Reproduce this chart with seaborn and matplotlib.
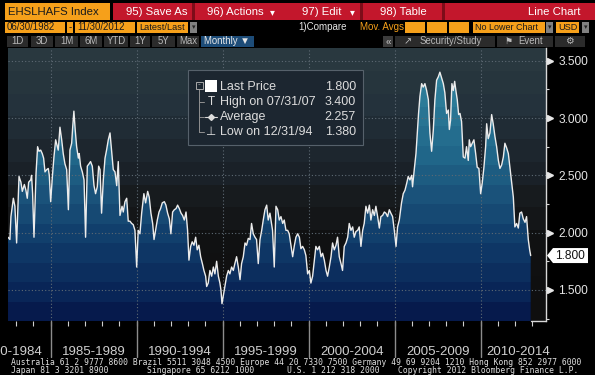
import numpy as np
import matplotlib
matplotlib.use("Agg")
import matplotlib.pyplot as plt
import seaborn as sns
from matplotlib.colors import LinearSegmentedColormap
from matplotlib.patches import Rectangle, Polygon
from matplotlib.transforms import IdentityTransform

# EHSLHAFS Index, monthly, 06/1982 - 11/2012
dates = [
    1982.52, 1982.63, 1982.69, 1982.83, 1982.92, 1983.02, 1983.16, 1983.27, 1983.35, 1983.47,
    1983.56, 1983.64, 1983.72, 1983.84, 1983.89, 1983.95, 1984.03, 1984.15, 1984.24, 1984.32,
    1984.42, 1984.51, 1984.59, 1984.67, 1984.77, 1984.86, 1984.92, 1985.00, 1985.10, 1985.19,
    1985.29, 1985.39, 1985.44, 1985.54, 1985.64, 1985.73, 1985.83, 1985.93, 1986.03, 1986.12,
    1986.22, 1986.28, 1986.35, 1986.43, 1986.51, 1986.61, 1986.66, 1986.74, 1986.84, 1986.94,
    1987.03, 1987.13, 1987.23, 1987.32, 1987.42, 1987.52, 1987.61, 1987.71, 1987.79, 1987.87,
    1987.96, 1988.06, 1988.16, 1988.25, 1988.35, 1988.45, 1988.54, 1988.64, 1988.74, 1988.84,
    1988.93, 1989.03, 1989.15, 1989.22, 1989.32, 1989.42, 1989.51, 1989.61, 1989.71, 1989.80,
    1989.90, 1990.00,
    1990.09, 1990.19, 1990.29, 1990.42, 1990.52, 1990.64, 1990.73, 1990.83, 1990.93, 1991.01,
    1991.10, 1991.20, 1991.30, 1991.39, 1991.49, 1991.61, 1991.70, 1991.80, 1991.90, 1991.99,
    1992.09, 1992.19, 1992.29, 1992.38, 1992.48, 1992.58, 1992.67, 1992.77, 1992.87, 1992.96,
    1993.04, 1993.14, 1993.23, 1993.33, 1993.43, 1993.52, 1993.62, 1993.72, 1993.82, 1993.91,
    1994.01, 1994.07, 1994.16, 1994.26, 1994.36, 1994.46, 1994.55, 1994.65, 1994.75, 1994.84,
    1994.90, 1994.96, 1995.13, 1995.23, 1995.33, 1995.42, 1995.52, 1995.62, 1995.71, 1995.81,
    1995.91, 1996.01, 1996.10, 1996.20, 1996.30, 1996.39, 1996.49, 1996.59, 1996.68, 1996.78,
    1996.88, 1996.97, 1997.07, 1997.17, 1997.27, 1997.36, 1997.46, 1997.56, 1997.65, 1997.75,
    1997.90, 1998.00, 1998.10, 1998.20, 1998.29, 1998.39, 1998.49, 1998.58, 1998.68, 1998.78,
    1998.87, 1998.97, 1999.07, 1999.16, 1999.26, 1999.36, 1999.46, 1999.55, 1999.65, 1999.75,
    1999.84, 1999.94, 2000.04, 2000.13, 2000.23, 2000.33, 2000.42, 2000.52, 2000.62, 2000.72,
    2000.81, 2000.91, 2001.01, 2001.10, 2001.20, 2001.30, 2001.39, 2001.49, 2001.59, 2001.68,
    2001.78, 2001.88, 2001.97, 2002.07, 2002.17, 2002.27, 2002.36, 2002.46, 2002.56, 2002.65,
    2002.75, 2002.85, 2002.94, 2003.04, 2003.14, 2003.23, 2003.33, 2003.43, 2003.53, 2003.62,
    2003.72, 2003.82, 2003.91, 2004.01, 2004.11, 2004.20, 2004.30, 2004.40, 2004.49, 2004.59,
    2004.69, 2004.78, 2004.88, 2004.98, 2005.08, 2005.17, 2005.27,
    2005.40, 2005.50, 2005.60, 2005.70, 2005.79, 2005.89, 2005.99, 2006.04, 2006.14, 2006.24,
    2006.32, 2006.39, 2006.47, 2006.57, 2006.66, 2006.76, 2006.86, 2006.96, 2007.05, 2007.15,
    2007.25, 2007.34, 2007.44, 2007.54, 2007.63, 2007.73, 2007.83, 2007.92, 2008.02, 2008.12,
    2008.18, 2008.25, 2008.33, 2008.41, 2008.49, 2008.56, 2008.64, 2008.72, 2008.80, 2008.89,
    2008.99, 2009.09, 2009.18, 2009.28, 2009.34, 2009.42, 2009.51, 2009.61, 2009.71, 2009.80,
    2009.90, 2010.00, 2010.09, 2010.19, 2010.29, 2010.35, 2010.44, 2010.54, 2010.64, 2010.73,
    2010.83, 2010.93, 2011.03, 2011.12, 2011.22, 2011.32, 2011.41, 2011.51, 2011.61, 2011.70,
    2011.80, 2011.90, 2011.99, 2012.09, 2012.19, 2012.28, 2012.38, 2012.48, 2012.58, 2012.67,
    2012.77, 2012.85, 2012.91,
]
rate = [
    1.96, 1.94, 2.14, 2.30, 2.23, 1.91, 2.49, 2.44, 2.36, 2.42,
    2.37, 2.30, 2.44, 2.46, 2.50, 2.34, 1.96, 2.52, 2.75, 2.71,
    2.72, 2.69, 2.65, 2.53, 2.55, 2.56, 2.50, 2.27, 2.49, 2.66,
    2.81, 2.75, 2.72, 2.92, 2.81, 2.69, 2.60, 2.55, 2.20, 2.72,
    2.78, 2.92, 3.06, 2.89, 2.75, 2.65, 2.69, 2.58, 2.53, 2.46,
    1.96, 2.58, 2.60, 2.62, 2.58, 2.41, 2.34, 2.40, 2.58, 2.55,
    2.17, 2.46, 2.65, 2.72, 2.81, 2.87, 2.72, 2.55, 2.53, 2.41,
    2.62, 2.15, 2.23, 2.18, 2.27, 2.30, 2.10, 2.10, 2.08, 2.07,
    2.02, 1.70,
    2.02, 1.99, 2.17, 2.34, 2.26, 2.36, 2.31, 2.17, 2.08, 1.94,
    2.02, 2.11, 2.18, 2.21, 2.26, 2.27, 2.24, 2.17, 2.12, 1.99,
    2.18, 2.20, 2.21, 2.24, 2.21, 2.17, 2.15, 2.11, 2.18, 2.02,
    1.76, 1.88, 1.92, 1.89, 1.96, 1.85, 1.89, 1.79, 1.73, 1.67,
    1.62, 1.53, 1.56, 1.67, 1.62, 1.70, 1.64, 1.75, 1.62, 1.56,
    1.50, 1.38, 1.53, 1.62, 1.67, 1.64, 1.70, 1.67, 1.73, 1.79,
    1.70, 1.59, 1.73, 1.79, 1.91, 1.89, 1.95, 1.94, 2.08, 1.99,
    1.96, 1.94, 1.73, 1.94, 2.02, 2.11, 2.20, 2.24, 2.11, 2.17,
    2.02, 1.70, 2.23, 2.20, 2.11, 2.14, 2.08, 2.11, 2.02, 2.02,
    1.99, 1.89, 1.79, 1.88, 1.96, 1.99, 1.96, 1.86, 1.88, 1.85,
    1.80, 1.64, 1.67, 1.56, 1.62, 1.76, 1.88, 1.85, 1.88, 1.79,
    1.82, 1.76, 1.67, 1.62, 1.70, 1.79, 1.91, 1.85, 1.89, 1.96,
    1.79, 1.73, 1.67, 1.88, 1.91, 1.96, 2.08, 2.02, 2.05, 1.96,
    2.01, 2.02, 2.05, 1.88, 2.02, 2.08, 2.23, 2.17, 2.24, 2.11,
    2.20, 2.15, 2.23, 2.14, 2.04, 2.14, 2.15, 2.18, 2.17, 2.14,
    2.20, 2.17, 2.14, 2.02, 1.88, 2.05, 2.11,
    2.26, 2.34, 2.37, 2.43, 2.49, 2.46, 2.50, 2.40, 2.55, 2.69,
    2.87, 3.04, 3.19, 3.30, 3.27, 3.30, 3.24, 3.16, 2.87, 2.71,
    2.90, 3.16, 3.33, 3.36, 3.40, 3.35, 3.30, 3.22, 3.04, 3.07,
    2.90, 2.98, 3.30, 3.24, 3.32, 3.24, 3.16, 3.03, 3.04, 2.97,
    2.66, 2.65, 2.75, 2.63, 2.81, 2.75, 2.78, 2.81, 2.69, 2.57,
    2.56, 2.34, 2.43, 2.57, 2.75, 2.95, 2.82, 2.87, 3.03, 2.95,
    2.84, 2.75, 2.63, 2.56, 2.59, 2.66, 2.78, 2.74, 2.69, 2.57,
    2.43, 2.31, 2.05, 2.08, 2.04, 2.17, 2.18, 2.12, 2.09, 2.14,
    1.94, 1.85, 1.80,
]

ticker = "EHSLHAFS Index"
start_date = "06/30/1982"
end_date = "11/30/2012"
period_starts = [1980, 1985, 1990, 1995, 2000, 2005, 2010]
period_labels = ["1980-1984", "1985-1989", "1990-1994", "1995-1999",
                 "2000-2004", "2005-2009", "2010-2014"]
y_ticks = [1.5, 2.0, 2.5, 3.0, 3.5]
y_minor = [1.25, 1.75, 2.25, 2.75, 3.25]
legend_labels = ["Last Price", "High on 07/31/07", "Average", "Low on 12/31/94"]
legend_values = ["1.800", "3.400", "2.257", "1.380"]
last_price = 1.800
range_buttons = ["1D", "3D", "1M", "6M", "YTD", "1Y", "5Y", "Max"]

W, H = 595, 375
ORANGE = "#f6a01a"
RED = "#c3172c"

sns.set_theme(style="dark")
plt.rcParams["font.family"] = ["Liberation Sans", "DejaVu Sans"]

fig = plt.figure(figsize=(W / 100, H / 100), dpi=100, facecolor="black")


def rect(x0, y0, x1, y1, color, **kw):
    # pixel box measured from the top-left corner of the screenshot
    fig.patches.append(Rectangle((x0 / W, 1 - y1 / H), (x1 - x0) / W, (y1 - y0) / H,
                                 transform=fig.transFigure, facecolor=color,
                                 edgecolor=kw.pop("edgecolor", "none"), **kw))


def txt(x, y, s, **kw):
    kw.setdefault("va", "center")
    fig.text(x / W, 1 - y / H, s, **kw)


# ---- header rows ----
rect(5, 3, 110, 20, ORANGE)
txt(8, 12, ticker, fontsize=8.2, color="#1a1a1a")
rect(113, 3, 595, 20, RED)
for x in [192, 360, 442]:
    rect(x, 3, x + 3, 20, "#7d0c19")
txt(126, 12, "95) Save As", fontsize=8.2, color="white")
txt(207, 12, "96) Actions", fontsize=8.2, color="white")
txt(270, 12.5, "▾", fontsize=7, color="white")
txt(302, 12, "97) Edit", fontsize=8.2, color="white")
txt(350, 12.5, "▾", fontsize=7, color="white")
txt(380, 12, "98) Table", fontsize=8.2, color="white")
txt(580, 12, "Line Chart", fontsize=8.2, color="white", ha="right")

rect(5, 22, 65, 33, ORANGE)
txt(7, 27.5, start_date, fontsize=6.9, color="#1a1a1a")
rect(67, 22, 73, 33, ORANGE)
txt(70, 27.5, "-", fontsize=7, color="#1a1a1a", ha="center")
rect(75, 22, 135, 33, ORANGE)
txt(77, 27.5, end_date, fontsize=6.9, color="#1a1a1a")
rect(137, 22, 188, 33, ORANGE)
txt(139, 27.5, "Latest/Last", fontsize=6.7, color="#1a1a1a")
for x0 in [190, 546, 582]:
    rect(x0, 22, x0 + 7, 33, "#808080")
    txt(x0 + 3.5, 28, "▾", fontsize=5, color="#222222", ha="center")
txt(298, 27.5, "1)Compare", fontsize=7.0, color="#e6e6e6")
txt(360, 27.5, "Mov. Avgs", fontsize=7.0, color=ORANGE)
for x0 in [405, 427, 449]:
    rect(x0, 22, x0 + 20, 33, ORANGE)
rect(473, 22, 545, 33, ORANGE)
txt(475, 27.5, "No Lower Chart", fontsize=6.5, color="#1a1a1a")
rect(556, 22, 579, 33, ORANGE)
txt(558, 27.5, "USD", fontsize=6.6, color="#1a1a1a")

button_x = [(7, 28), (31, 53), (55, 78), (80, 102), (104, 128), (130, 150),
            (152, 175), (177, 199)]
for (x0, x1), b in zip(button_x, range_buttons):
    rect(x0, 36, x1, 47, "#2b2b2b")
    txt((x0 + x1) / 2, 41.5, b, fontsize=6.9, color="#b8b8b8", ha="center")
rect(201, 36, 254, 47, "#1d4c78")
txt(204, 41.5, "Monthly ▼", fontsize=6.9, color="#e8e8e8")
rect(383, 36, 393, 47, "#3c3c3c")
txt(388, 41.5, "«", fontsize=7, color="#cccccc", ha="center")
rect(395, 36, 495, 47, "#2b2b2b")
txt(408, 41.5, "↗", fontsize=7, color="#bbbbbb", ha="center")
txt(420, 41.5, "Security/Study", fontsize=6.9, color="#b8b8b8")
rect(497, 36, 553, 47, "#2b2b2b")
txt(509, 41.5, "⚑", fontsize=6.5, color="#bbbbbb", ha="center")
txt(518, 41.5, "Event", fontsize=6.9, color="#b8b8b8")
rect(555, 36, 585, 47, "#2b2b2b")
txt(569, 41.5, "⚙", fontsize=7, color="#bbbbbb", ha="center")

# ---- plot area ----
ax = fig.add_axes([7.5 / W, 1 - 321 / H, (546 - 7.5) / W, (321 - 48) / H])
x_lo, x_hi = 1982.49, 2013.80
y_lo, y_hi = 1.229, 3.611

bg_cmap = LinearSegmentedColormap.from_list("bg", [
    (0.0, "#0f0f0f"), (0.28, "#111213"), (0.44, "#171a1d"), (0.53, "#1a2127"),
    (0.70, "#1f2a33"), (0.80, "#24323c"), (1.0, "#29383f")])
fill_cmap = LinearSegmentedColormap.from_list("fill", [
    (0.0, "#061a4c"), (0.08, "#0a2658"), (0.26, "#0f3a68"), (0.44, "#1a5078"),
    (0.63, "#21688b"), (0.88, "#2e7e9a"), (1.0, "#3286a1")])

bands = np.linspace(0, 1, 12)[:, None]
ax.imshow(bands, cmap=bg_cmap, extent=[x_lo, x_hi, y_lo, y_hi], origin="lower",
          aspect="auto", interpolation="nearest", zorder=0)
grad = ax.imshow(np.linspace(0, 1, 14)[:, None], cmap=fill_cmap,
                 extent=[x_lo, x_hi, y_lo, y_hi], origin="lower",
                 aspect="auto", interpolation="nearest", zorder=1)
area = ax.fill_between(dates, rate, y_lo, facecolor="none", edgecolor="none")
grad.set_clip_path(area.get_paths()[0], transform=ax.transData)

grid_kw = dict(color="#5e6a74", lw=0.8, linestyle=(0, (1, 2)), zorder=2)
for v in y_ticks:
    ax.axhline(v, **grid_kw)
for t in period_starts[1:]:
    ax.axvline(t, **grid_kw)

sns.lineplot(x=dates, y=rate, ax=ax, color="#ececec", linewidth=1.0,
             sort=False, estimator=None, zorder=3)

ax.set_xlim(x_lo, x_hi)
ax.set_ylim(y_lo, y_hi)
ax.set_xlabel("")
ax.set_ylabel("")
ax.set_facecolor("#111111")
for s in ["top", "left", "bottom"]:
    ax.spines[s].set_visible(False)
ax.spines["right"].set_color("#d8d8d8")
ax.spines["right"].set_linewidth(1.0)

ax.yaxis.tick_right()
ax.set_yticks(y_ticks)
ax.set_yticklabels([f"{v:.3f}" for v in y_ticks])
ax.set_yticks(y_minor, minor=True)
ax.tick_params(axis="y", which="major", length=0, pad=9, labelsize=8.6,
               labelcolor="#e6e6e6")
ax.tick_params(axis="y", which="minor", length=2.5, width=0.8, color="#d8d8d8",
               direction="out")
ax.plot([1 + 4 / 538.5] * len(y_ticks), y_ticks, marker=">", markersize=4.5,
        linestyle="none", color="#e6e6e6", transform=ax.get_yaxis_transform(),
        clip_on=False)
# short base line at the bottom right corner
ax.plot([2012.95, x_hi], [0, 0], transform=ax.get_xaxis_transform(),
        clip_on=False, color="#d8d8d8", lw=1.0)

ax.set_xticks(range(1983, 2014))
ax.tick_params(axis="x", length=3.5, width=0.8, color="#cfcfcf", direction="out",
               labelbottom=False, bottom=True)

for t in period_starts[1:]:
    ax.plot([t, t], [0, -36 / 273], transform=ax.get_xaxis_transform(),
            clip_on=False, color="#8c8c8c", lw=1.0)
label_x = [1982.7, 1987.5, 1992.5, 1997.5, 2002.5, 2007.5, 2012.17]
for x, lab in zip(label_x, period_labels):
    ax.text(x, -31 / 273, lab, transform=ax.get_xaxis_transform(), ha="center",
            va="center", fontsize=9.5, color="#cfcfcf")

# last price tag
fig.canvas.draw()
yp = ax.transData.transform((x_lo, last_price))[1]
xr = ax.transAxes.transform((1, 0))[0]
tag = Polygon([(xr + 1, yp), (xr + 7, yp + 7.5), (xr + 42, yp + 7.5),
               (xr + 42, yp - 7.5), (xr + 7, yp - 7.5)], closed=True,
              transform=IdentityTransform(), facecolor="white", edgecolor="none")
fig.patches.append(tag)
fig.text((xr + 9) / W, yp / H, f"{last_price:.3f}", fontsize=8.6, color="#111111",
         va="center")

# legend box
rect(188, 70, 363, 145, "#1c2630", edgecolor="#56616b", linewidth=0.8, zorder=5)
rect(196, 82, 203, 89, "none", edgecolor="#a8a8a8", linewidth=0.7, zorder=6)
txt(199.5, 85.2, "-", fontsize=6, color="#a8a8a8", ha="center", zorder=7)
rect(205, 80, 217, 92, "white", zorder=6)
leg_y = [86.5, 101.7, 117.3, 132.3]
fig.lines.append(plt.Line2D([199.5 / W, 199.5 / W], [1 - 89 / H, 1 - 132 / H],
                            transform=fig.transFigure, color="#909090", lw=0.7, zorder=6))
for yy in leg_y[1:]:
    fig.lines.append(plt.Line2D([199.5 / W, 204 / W], [1 - yy / H, 1 - yy / H],
                                transform=fig.transFigure, color="#909090", lw=0.7, zorder=6))
txt(211, leg_y[1], "T", fontsize=8.5, color="#dcdcdc", ha="center", zorder=7)
fig.lines.append(plt.Line2D([205 / W, 211 / W, 217 / W], [1 - leg_y[2] / H] * 3,
                            transform=fig.transFigure, color="#dcdcdc", lw=0.8,
                            marker="D", markevery=[1], markersize=3, zorder=7))
txt(211, leg_y[3], "⊥", fontsize=8.5, color="#dcdcdc", ha="center", zorder=7)
for yy, lab, val in zip(leg_y, legend_labels, legend_values):
    txt(220, yy, lab, fontsize=9, color="#dcdcdc", zorder=7)
    txt(356, yy, val, fontsize=9, color="#dcdcdc", ha="right", zorder=7)

# footer
mono = dict(fontsize=5.8, color="#e0e0e0", family=["DejaVu Sans Mono"])
txt(11, 362.5, "Australia 61 2 9777 8600 Brazil 5511 3048 4500 Europe 44 20 7330 7500 "
    "Germany 49 69 9204 1210 Hong Kong 852 2977 6000", **mono)
txt(11, 370.5, "Japan 81 3 3201 8900", **mono)
txt(146.7, 370.5, "Singapore 65 6212 1000", **mono)
txt(287, 370.5, "U.S. 1 212 318 2000", **mono)
txt(398, 370.5, "Copyright 2012 Bloomberg Finance L.P.", **mono)

fig.savefig("out.png", dpi=100, facecolor="black")
